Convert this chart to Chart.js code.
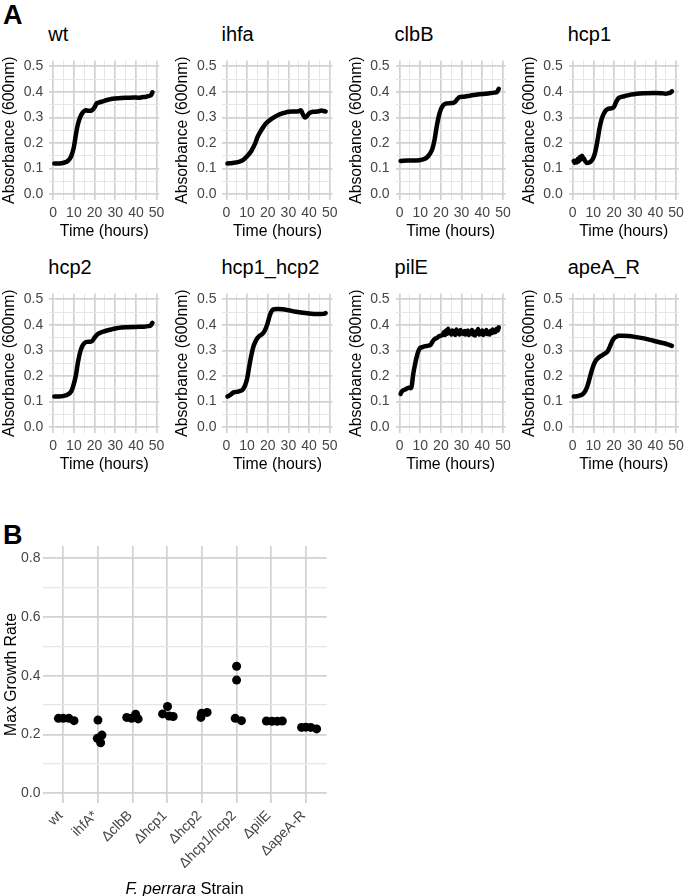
<!DOCTYPE html>
<html><head><meta charset="utf-8">
<script src="https://cdn.jsdelivr.net/npm/chart.js@4.4.0/dist/chart.umd.min.js"></script>
<style>
html,body{margin:0;padding:0;background:#fff;}
#root{position:relative;width:685px;height:896px;overflow:hidden;font-family:"Liberation Sans",Arial,sans-serif;}
canvas{position:absolute;}
.t{position:absolute;line-height:1;white-space:nowrap;color:#000;}
</style></head><body><div id="root"></div>
<script>
// ---------------- Panel A data (time in hours, absorbance at 600 nm) ----------------
const panelTitles = ['wt','ihfa','clbB','hcp1','hcp2','hcp1_hcp2','pilE','apeA_R'];

const wtTime = [0.5,2,4,6,7,8,9,10,11,12,13,14,15,16,17,18,19,20,21,22,24,26,28,30,33,36,39,41,43,45,46,47,47.5,48];
const wtOD   = [0.12,0.12,0.121,0.125,0.13,0.138,0.155,0.185,0.235,0.275,0.30,0.316,0.325,0.328,0.326,0.326,0.33,0.34,0.355,0.358,0.363,0.368,0.372,0.374,0.376,0.377,0.378,0.377,0.379,0.381,0.383,0.386,0.39,0.398];

const ihfaTime = [0.5,3,6,8,10,12,13,14,15,16,17,18,19,20,22,24,26,28,30,33,35,36,37,38,39,40,42,44,46,47,48];
const ihfaOD   = [0.12,0.122,0.126,0.133,0.148,0.168,0.183,0.2,0.222,0.238,0.252,0.264,0.275,0.283,0.295,0.305,0.313,0.318,0.322,0.323,0.324,0.328,0.312,0.30,0.305,0.316,0.322,0.323,0.327,0.325,0.323];

const clbBTime = [0.5,4,8,11,13,14,15,16,17,18,19,20,21,22,23,25,26,27,28,29,31,34,37,40,43,46,47,47.5,48];
const clbBOD   = [0.13,0.132,0.132,0.135,0.142,0.15,0.162,0.18,0.215,0.265,0.305,0.332,0.346,0.353,0.355,0.356,0.357,0.362,0.372,0.379,0.381,0.385,0.389,0.392,0.394,0.397,0.399,0.404,0.412];

const hcp1Time = [0.5,1,1.5,2,2.5,3,3.5,4,4.5,5,5.5,6,7,8,9,10,11,12,13,14,15,16,17,18,19,20,21,22,23,25,28,31,35,40,43,45,46,47,48];
const hcp1OD   = [0.13,0.122,0.132,0.124,0.138,0.128,0.145,0.135,0.15,0.142,0.138,0.13,0.122,0.124,0.13,0.142,0.168,0.21,0.258,0.293,0.314,0.327,0.333,0.335,0.336,0.342,0.36,0.374,0.379,0.383,0.389,0.393,0.395,0.396,0.395,0.393,0.394,0.396,0.402];

const hcp2Time = [0.5,3,6,8,9,10,11,12,13,14,15,16,17,18,19,20,21,22,24,26,28,30,33,36,40,44,46,47,47.5,48];
const hcp2OD   = [0.12,0.12,0.124,0.133,0.145,0.17,0.205,0.255,0.293,0.316,0.328,0.333,0.334,0.334,0.338,0.35,0.36,0.366,0.373,0.378,0.382,0.386,0.39,0.391,0.392,0.393,0.395,0.397,0.402,0.408];

const hcp12Time = [0.5,1.5,2.5,3.5,5,7,8,9,10,11,12,13,14,15,16,17,18,19,20,21,22,23,25,27,30,33,36,40,44,47,48];
const hcp12OD   = [0.12,0.124,0.13,0.136,0.138,0.142,0.148,0.162,0.188,0.235,0.278,0.313,0.334,0.348,0.357,0.362,0.37,0.385,0.408,0.437,0.455,0.461,0.462,0.461,0.457,0.452,0.448,0.444,0.442,0.443,0.446];

const pilETime = [0.5,1,2,3,4,5,5.5,6,6.5,7,7.5,8,9,10,11,12,13,14,15,16,17,18,19,20,21,
  21.5,22,22.5,23,23.5,24,24.5,25,25.5,26,26.5,27,27.5,28,28.5,29,29.5,30,30.5,31,31.5,32,32.5,33,33.5,34,34.5,35,
  35.5,36,36.5,37,37.5,38,38.5,39,39.5,40,40.5,41,41.5,42,42.5,43,43.5,44,44.5,45,45.5,46,46.5,47,47.5,48];
const pilEOD   = [0.13,0.138,0.145,0.148,0.153,0.155,0.152,0.165,0.2,0.225,0.245,0.265,0.295,0.31,0.313,0.316,0.317,0.319,0.322,0.335,0.345,0.348,0.355,0.358,0.362,
  0.372,0.36,0.378,0.365,0.385,0.368,0.375,0.362,0.378,0.366,0.372,0.36,0.382,0.368,0.374,0.362,0.38,0.366,0.372,0.364,0.376,0.362,0.368,0.378,0.36,0.372,0.366,0.38,
  0.362,0.37,0.358,0.375,0.366,0.384,0.362,0.37,0.364,0.378,0.36,0.372,0.366,0.38,0.364,0.372,0.362,0.376,0.368,0.382,0.37,0.376,0.372,0.385,0.378,0.39];

const apeTime = [0.5,2,4,5,6,7,8,9,10,11,12,13,14,15,16,17,18,19,20,21,22,24,27,30,33,36,39,42,45,47,48];
const apeOD   = [0.12,0.121,0.125,0.13,0.14,0.158,0.185,0.215,0.24,0.258,0.268,0.275,0.28,0.285,0.29,0.298,0.315,0.335,0.348,0.353,0.357,0.357,0.356,0.353,0.349,0.344,0.338,0.332,0.326,0.321,0.318];

const timeTicks = [0,5,10,15,20,25,30,35,40,45,50];
const odTicks   = [0,0.05,0.1,0.15,0.2,0.25,0.3,0.35,0.4,0.45,0.5];

// ---------------- Panel B data (max growth rate per replicate) ----------------
const strainLabels = ['wt','ihfA*','\u0394clbB','\u0394hcp1','\u0394hcp2','\u0394hcp1/hcp2','\u0394pilE','\u0394apeA-R'];
const rateWt    = [0.255,0.255,0.255,0.247];
const rateIhfA  = [0.249,0.198,0.187,0.172];
const rateClbB  = [0.258,0.255,0.269,0.253];
const rateHcp1  = [0.270,0.295,0.263,0.261];
const rateHcp2  = [0.258,0.272,0.275];
const rateHcp12 = [0.432,0.385,0.255,0.247];
const ratePilE  = [0.246,0.245,0.245,0.246];
const rateApeA  = [0.224,0.225,0.224,0.219];
// horizontal jitter of each replicate (category units)
const jitWt    = [-0.14,0.0,0.16,0.31];
const jitIhfA  = [0.0,0.115,-0.02,0.078];
const jitClbB  = [-0.17,-0.03,0.087,0.16];
const jitHcp1  = [-0.135,0.008,0.055,0.17];
const jitHcp2  = [-0.03,-0.01,0.15];
const jitHcp12 = [0.0,0.0,-0.04,0.14];
const jitPilE  = [-0.14,0.02,0.17,0.32];
const jitApeA  = [-0.125,0.0,0.14,0.31];
const rateTicks = [0,0.1,0.2,0.3,0.4,0.5,0.6,0.7,0.8];

// ---------------- drawing ----------------
const FONT = '"Liberation Sans", Arial, sans-serif';
const MAJOR = '#d2d2d2', MINOR = '#e6e6e6';
const TICKCOL = '#454545';
const TICKSIZE = 14;
const TITLESIZE = 15.8;
const root = document.getElementById('root');

function addText(html, left, baseline, size, extra) {
  const d = document.createElement('div');
  d.className = 't';
  d.innerHTML = html;
  d.style.fontSize = size + 'px';
  d.style.left = left + 'px';
  d.style.top = (baseline - 0.8465 * size) + 'px';
  if (extra) Object.assign(d.style, extra);
  root.appendChild(d);
  return d;
}
const isMult = (v, step) => Math.abs(v / step - Math.round(v / step)) < 1e-6;

const series = [
  [wtTime, wtOD], [ihfaTime, ihfaOD], [clbBTime, clbBOD], [hcp1Time, hcp1OD],
  [hcp2Time, hcp2OD], [hcp12Time, hcp12OD], [pilETime, pilEOD], [apeTime, apeOD]
];

addText('A', 3, 25, 27, {fontWeight: 'bold'});
addText('B', 3, 545, 27, {fontWeight: 'bold'});

series.forEach((s, i) => {
  const c = i % 4, r = Math.floor(i / 4);
  const chartLeft = 49.3 + 173.15 * c;
  const chartTop = 54.5 + 233 * r;
  const chartW = 110, chartH = 145.4;
  const cLeft = Math.round(chartLeft - 49.3);
  const cTop = Math.floor(chartTop - 8);
  const yW = chartLeft - cLeft;
  const padTop = chartTop - cTop;
  const W = 170, H = Math.ceil(padTop + chartH + 42);
  const cv = document.createElement('canvas');
  cv.width = W; cv.height = H;
  cv.style.left = cLeft + 'px'; cv.style.top = cTop + 'px';
  root.appendChild(cv);
  addText(panelTitles[i], chartLeft - 1, chartTop - 14, 20);
  new Chart(cv, {
    type: 'scatter',
    data: { datasets: [{
      data: s[0].map((t, k) => ({x: t, y: s[1][k]})),
      showLine: true, borderColor: '#000', borderWidth: 4.5, pointRadius: 0,
      cubicInterpolationMode: 'monotone', borderCapStyle: 'round', borderJoinStyle: 'round'
    }]},
    options: {
      responsive: false, animation: false, events: [],
      layout: { padding: { left: 0, top: padTop, right: W - yW - chartW, bottom: H - padTop - chartH - 42 } },
      plugins: { legend: {display: false}, tooltip: {enabled: false} },
      scales: {
        x: {
          type: 'linear', min: -1.9, max: 51.3,
          afterBuildTicks: sc => { sc.ticks = timeTicks.map(v => ({value: v})); },
          afterFit: sc => { sc.height = 42; },
          border: {display: false},
          grid: {
            drawTicks: false,
            color: ctx => (ctx.tick && isMult(ctx.tick.value, 10)) ? MAJOR : MINOR,
            lineWidth: ctx => (ctx.tick && isMult(ctx.tick.value, 10)) ? 1.7 : 1
          },
          ticks: { autoSkip: false, maxRotation: 0, padding: 4.5, color: TICKCOL,
            font: {family: FONT, size: TICKSIZE, lineHeight: 1.2},
            callback: v => isMult(v, 10) ? String(v) : '' },
          title: { display: true, text: 'Time (hours)', color: '#000',
            font: {family: FONT, size: TITLESIZE, lineHeight: 1.2}, padding: {top: 0, bottom: 1} }
        },
        y: {
          type: 'linear', min: -0.0225, max: 0.523,
          afterBuildTicks: sc => { sc.ticks = odTicks.map(v => ({value: v})); },
          afterFit: sc => { sc.width = yW; },
          border: {display: false},
          grid: {
            drawTicks: false,
            color: ctx => (ctx.tick && isMult(ctx.tick.value, 0.1)) ? MAJOR : MINOR,
            lineWidth: ctx => (ctx.tick && isMult(ctx.tick.value, 0.1)) ? 1.7 : 1
          },
          ticks: { autoSkip: false, padding: 6, color: TICKCOL,
            font: {family: FONT, size: TICKSIZE, lineHeight: 1.2},
            callback: v => isMult(v, 0.1) ? v.toFixed(1) : '' },
          title: { display: true, text: 'Absorbance (600nm)', color: '#000',
            font: {family: FONT, size: TITLESIZE, lineHeight: 1.2}, padding: {top: 0.5 + (yW - 49.3), bottom: 0} }
        }
      }
    }
  });
});

// ---------------- Panel B ----------------
const rates = [rateWt, rateIhfA, rateClbB, rateHcp1, rateHcp2, rateHcp12, ratePilE, rateApeA];
const jits  = [jitWt, jitIhfA, jitClbB, jitHcp1, jitHcp2, jitHcp12, jitPilE, jitApeA];
const pts = [];
rates.forEach((arr, ci) => arr.forEach((v, k) => pts.push({x: ci + jits[ci][k], y: v})));

(function () {
  const cv = document.createElement('canvas');
  const W = 340, H = 366;
  cv.width = W; cv.height = H;
  cv.style.left = '0px'; cv.style.top = '530px';
  root.appendChild(cv);
  new Chart(cv, {
    type: 'scatter',
    data: { datasets: [{ data: pts, backgroundColor: '#000', borderWidth: 0, pointRadius: 4.5 }] },
    options: {
      responsive: false, animation: false, events: [],
      layout: { padding: { left: 0, top: 16, right: W - 326.7, bottom: 0 } },
      plugins: { legend: {display: false}, tooltip: {enabled: false} },
      scales: {
        x: {
          type: 'linear', min: -0.6, max: 7.6,
          afterBuildTicks: sc => { sc.ticks = strainLabels.map((l, k) => ({value: k})); },
          afterFit: sc => { sc.height = 93; },
          border: {display: false},
          grid: { drawTicks: false, color: MAJOR, lineWidth: 1.7 },
          ticks: { autoSkip: false, minRotation: 45, maxRotation: 45, padding: 4.5, labelOffset: -2.5,
            color: TICKCOL, font: {family: FONT, size: TICKSIZE, lineHeight: 1.2},
            callback: v => strainLabels[Math.round(v)] }
        },
        y: {
          type: 'linear', min: -0.033, max: 0.841,
          afterBuildTicks: sc => { sc.ticks = rateTicks.map(v => ({value: v})); },
          afterFit: sc => { sc.width = 42.5; },
          border: {display: false},
          grid: {
            drawTicks: false,
            color: ctx => (ctx.tick && isMult(ctx.tick.value, 0.2)) ? MAJOR : MINOR,
            lineWidth: ctx => (ctx.tick && isMult(ctx.tick.value, 0.2)) ? 1.7 : 1.2
          },
          ticks: { autoSkip: false, padding: 2, color: TICKCOL,
            font: {family: FONT, size: TICKSIZE, lineHeight: 1.2},
            callback: v => isMult(v, 0.2) ? v.toFixed(1) : '' },
          title: { display: true, text: 'Max Growth Rate', color: '#000',
            font: {family: FONT, size: TITLESIZE, lineHeight: 1.2}, padding: {top: 2, bottom: 0} }
        }
      }
    }
  });
})();

// x-axis title of panel B (mixed italic / upright)
const bt = addText('<i>F. perrara</i> Strain', 184.6, 894, 16.5);
bt.style.transform = 'translateX(-50%)';
</script>
</body></html>
